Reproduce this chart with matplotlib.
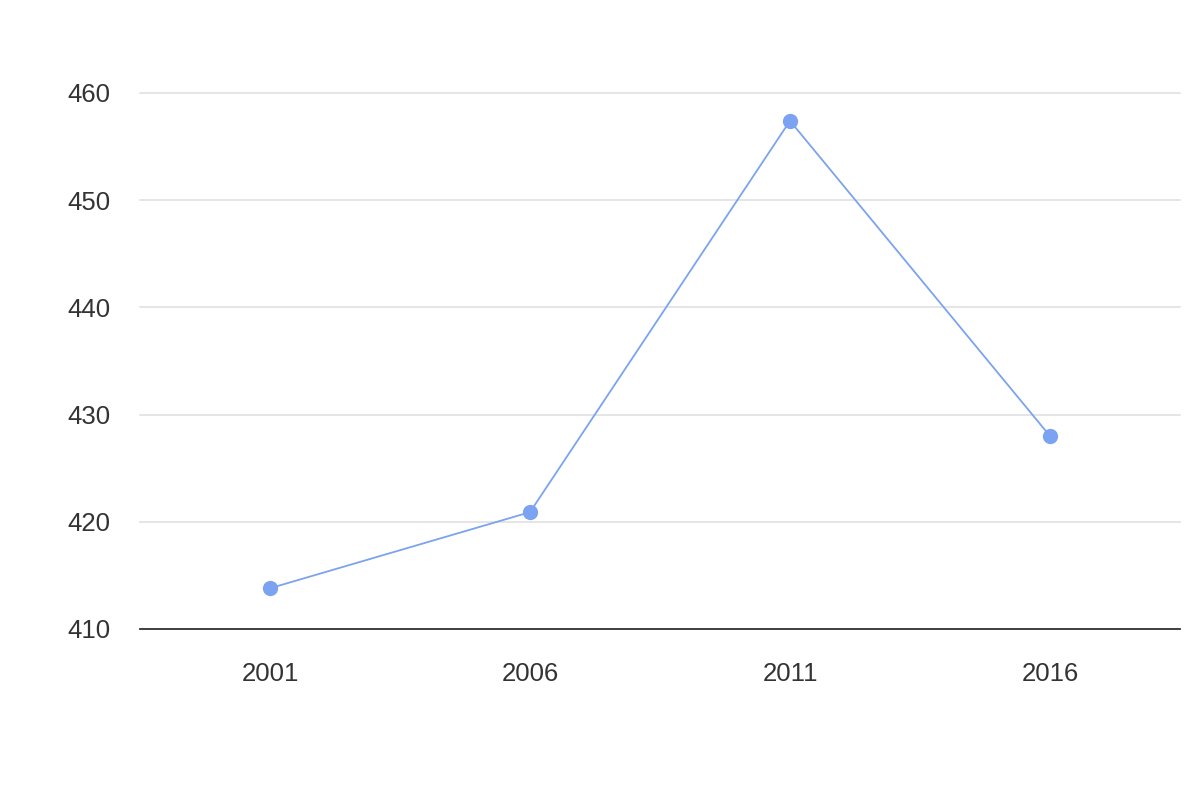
import matplotlib
matplotlib.use("Agg")
import matplotlib.pyplot as plt

years = ["2001", "2006", "2011", "2016"]
values = [413.8, 420.9, 457.4, 428.0]
y_ticks = [410, 420, 430, 440, 450, 460]

plt.rcParams['font.family'] = ['Liberation Sans', 'DejaVu Sans']

fig = plt.figure(figsize=(12, 8), dpi=100)
ax = fig.add_axes([140/1200, (800-629)/800, 1040/1200, (629-93)/800])

x = list(range(len(years)))
ax.plot(x, values, color='#7ba3ee', linewidth=1.3, marker='o', markersize=11,
        markerfacecolor='#7ba3f2', markeredgewidth=0, zorder=3)

ax.set_xlim(-0.5, len(years) - 0.5)
ax.set_ylim(410, 460)
ax.set_yticks(y_ticks)
ax.set_yticklabels([str(t) for t in y_ticks])
ax.set_xticks(x)
ax.set_xticklabels(years)

ax.grid(axis='y', color='#e0e0e0', linewidth=1.2)
for gl in ax.get_ygridlines():
    gl.set_clip_on(False)
ax.set_axisbelow(True)
for s in ['top', 'right', 'left']:
    ax.spines[s].set_visible(False)
ax.spines['bottom'].set_color('#333333')
ax.spines['bottom'].set_linewidth(1.3)
ax.spines['bottom'].set_zorder(4)

ax.tick_params(axis='both', length=0, labelsize=18.5, labelcolor='#333333')
ax.tick_params(axis='y', pad=21)
ax.tick_params(axis='x', pad=24)

fig.savefig("out.png", dpi=100, facecolor='white')
